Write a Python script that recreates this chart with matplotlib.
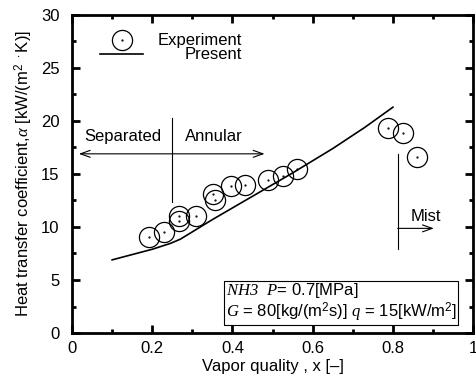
import numpy as np
import matplotlib.pyplot as plt

plt.rcParams['font.family'] = ['Liberation Sans', 'DejaVu Sans']
plt.rcParams['mathtext.fontset'] = 'custom'
plt.rcParams['mathtext.it'] = 'Liberation Serif:italic'
plt.rcParams['mathtext.sf'] = 'Liberation Serif:italic'  # dipakai untuk "NH3" (angka juga miring)
plt.rcParams['mathtext.rm'] = 'Liberation Sans'

# data percobaan
x_exp = [0.191, 0.229, 0.266, 0.266, 0.308, 0.351, 0.357, 0.397, 0.432,
         0.489, 0.525, 0.561, 0.788, 0.825, 0.859]
y_exp = [9.1, 9.5, 11.0, 10.6, 11.0, 13.1, 12.5, 13.9, 14.0,
         14.4, 14.8, 15.5, 19.3, 18.9, 16.6]

# kurva model (Present)
x_model = [0.10, 0.20, 0.245, 0.27, 0.35, 0.45, 0.55, 0.65, 0.73, 0.80]
y_model = [6.9, 7.9, 8.45, 8.85, 10.7, 12.9, 15.1, 17.4, 19.4, 21.3]

fs = 12

fig = plt.figure(figsize=(4.77, 3.83), dpi=100)
ax = fig.add_axes([0.151, 0.1305, 0.841, 0.8305])

ax.plot(x_model, y_model, '-', color='black', lw=1.2)
ax.plot(x_exp, y_exp, 'o', mfc='none', mec='black', ms=14.5, mew=0.9)
ax.plot(x_exp, y_exp, '.', color='black', ms=1.2)

ax.set_xlim(0, 1)
ax.set_ylim(0, 30)
ax.set_xticks([0, 0.2, 0.4, 0.6, 0.8, 1.0])
ax.set_xticklabels(['0', '0.2', '0.4', '0.6', '0.8', '1'])
ax.set_yticks(np.arange(0, 31, 5))
ax.set_xticks(np.arange(0.1, 1.0, 0.2), minor=True)
ax.set_yticks(np.arange(2.5, 30, 5), minor=True)
ax.tick_params(which='both', direction='in', top=True, right=True, labelsize=fs)
ax.tick_params(which='major', length=6, width=2)
ax.tick_params(which='minor', length=3, width=2)
ax.tick_params(axis='x', pad=6)
ax.tick_params(axis='y', pad=9)
for s in ax.spines.values():
    s.set_linewidth(2)

ax.set_xlabel('Vapor quality , x [\u2013]', fontsize=fs, labelpad=2)
ax.set_ylabel(r'Heat transfer coefficient,$\alpha$ [kW/(m$^2$ $^\cdot$K)]', fontsize=fs, labelpad=4)

# legenda manual
ax.plot([0.124], [0.921], 'o', mfc='none', mec='black', ms=14.5, mew=0.9, transform=ax.transAxes)
ax.plot([0.124], [0.921], '.', color='black', ms=1.2, transform=ax.transAxes)
ax.plot([0.07, 0.176], [0.877, 0.877], '-', color='black', lw=1.2, transform=ax.transAxes)
ax.text(0.423, 0.921, 'Experiment', ha='right', va='center', fontsize=fs, transform=ax.transAxes)
ax.text(0.423, 0.877, 'Present', ha='right', va='center', fontsize=fs, transform=ax.transAxes)

# batas rezim aliran
ax.plot([0.25, 0.25], [12.4, 20.3], color='black', lw=0.8)
ax.annotate('', xy=(0.017, 16.9), xytext=(0.48, 16.9),
            arrowprops=dict(arrowstyle='<->,head_length=0.7,head_width=0.25', lw=0.8, color='black',
                            shrinkA=0, shrinkB=0))
ax.text(0.224, 18.5, 'Separated', ha='right', va='center', fontsize=fs)
ax.text(0.281, 18.5, 'Annular', ha='left', va='center', fontsize=fs)

ax.plot([0.812, 0.812], [7.9, 16.9], color='black', lw=0.8)
ax.annotate('', xy=(0.902, 9.87), xytext=(0.812, 9.87),
            arrowprops=dict(arrowstyle='->,head_length=0.7,head_width=0.25', lw=0.8, color='black',
                            shrinkA=0, shrinkB=0))
ax.text(0.883, 11.0, 'Mist', ha='center', va='center', fontsize=fs)

ax.text(0.383, 0.028,
        r'$\mathsf{NH3}$  $P$= 0.7[MPa]' '\n' r'$G$ = 80[kg/(m$^2$s)] $q$ = 15[kW/m$^2$]',
        ha='left', va='bottom', fontsize=fs, linespacing=1.05, transform=ax.transAxes,
        bbox=dict(boxstyle='square,pad=0.08', fc='white', ec='black', lw=0.8))

fig.savefig('out.png', dpi=100)
